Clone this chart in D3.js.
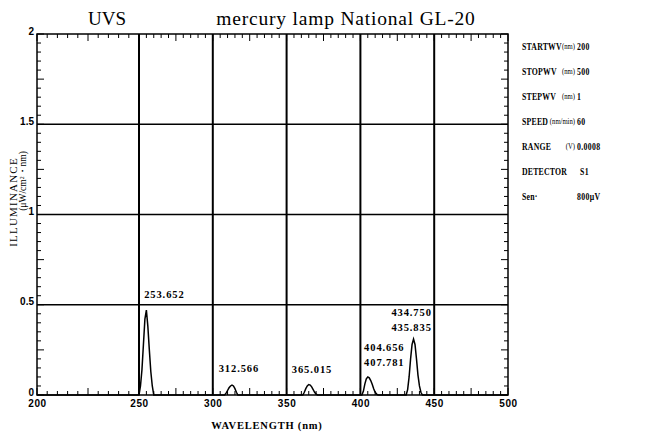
<!DOCTYPE html>
<html>
<head>
<meta charset="utf-8">
<script src="https://cdn.jsdelivr.net/npm/d3@7"></script>
<style>
  body { margin: 0; background: #fff; }
  svg { display: block; font-family: "Liberation Serif", "DejaVu Serif", serif; }
  .axis path, .axis line { stroke: #000; }
  .axis text { font-size: 10px; font-weight: bold; fill: #000; }
</style>
</head>
<body>
<div id="chart"></div>
<script>
  // spectrum samples (nm, uW/cm2/nm)
  var waveNm = [200, 250, 251, 252, 253, 254, 255, 256, 257, 258, 259, 260,
    308, 309, 310, 311, 312, 313, 314, 315, 316, 317,
    361, 362, 363, 364, 365, 366, 367, 368, 369, 370, 371,
    401, 402, 403, 404, 405, 406, 407, 408, 409, 410, 411, 412,
    431, 432, 433, 434, 435, 436, 437, 438, 439, 440, 441, 442, 500];
  var illum = [0, 0, 0.05, 0.14, 0.28, 0.42, 0.47, 0.38, 0.25, 0.13, 0.05, 0,
    0, 0.01, 0.025, 0.04, 0.05, 0.055, 0.05, 0.035, 0.015, 0,
    0, 0.015, 0.035, 0.05, 0.058, 0.055, 0.045, 0.03, 0.015, 0.005, 0,
    0, 0.02, 0.06, 0.09, 0.1, 0.095, 0.08, 0.06, 0.035, 0.015, 0.005, 0,
    0, 0.03, 0.1, 0.2, 0.28, 0.31, 0.28, 0.2, 0.11, 0.05, 0.015, 0, 0];

  // peak annotations
  var peakLabels = [['253.652'], ['312.566'], ['365.015'], ['404.656', '407.781'], ['434.750', '435.835']];
  var peakLabelWv = [253.5, 304, 353.5, 402.5, 421];
  var peakLabelY = [0.54, 0.125, 0.12, 0.245, 0.435];

  var xTicks = [200, 250, 300, 350, 400, 450, 500];
  var yTicks = [0, 0.5, 1, 1.5, 2];
  var yTickLabels = ['0', '0.5', '1', '1.5', '2'];

  var infoLabels = ['STARTWV', 'STOPWV', 'STEPWV', 'SPEED', 'RANGE', 'DETECTOR', 'Sen·'];
  var infoUnits = ['(nm)', '(nm)', '(nm)', '(nm/min)', '(V)', '', ''];
  var infoValues = ['200', '500', '1', '60', '0.0008', 'S1', '800μV'];

  var width = 671, height = 437;
  var svg = d3.select('#chart').append('svg')
    .attr('width', width).attr('height', height);

  // the scanned chart has a wider first 50 nm segment
  var x = d3.scaleLinear().domain([200, 250, 500]).range([37, 139, 508]);
  var y = d3.scaleLinear().domain([0, 2]).range([395, 34]);

  var plotL = x(200), plotR = x(500), plotT = y(2), plotB = y(0);

  // minor ticks on all four sides
  var minorX = d3.range(200, 501, 5);
  var minorY = d3.range(0, 2.001, 0.05);
  function xLen(d) { return d % 25 === 0 ? 7 : 4; }
  function yLen(d) { return Math.round(d * 100) % 25 === 0 ? 7 : 4; }

  var ticks = svg.append('g').attr('stroke', '#000').attr('stroke-width', 1);
  minorX.forEach(function(d) {
    ticks.append('line').attr('x1', x(d)).attr('x2', x(d))
      .attr('y1', plotB).attr('y2', plotB - xLen(d));
    ticks.append('line').attr('x1', x(d)).attr('x2', x(d))
      .attr('y1', plotT).attr('y2', plotT + xLen(d));
  });
  minorY.forEach(function(d) {
    ticks.append('line').attr('y1', y(d)).attr('y2', y(d))
      .attr('x1', plotL).attr('x2', plotL + yLen(d));
    ticks.append('line').attr('y1', y(d)).attr('y2', y(d))
      .attr('x1', plotR).attr('x2', plotR - yLen(d));
  });

  // grid
  svg.append('g').selectAll('line').data([250, 300, 350, 400, 450]).enter()
    .append('line')
    .attr('x1', function(d) { return x(d); }).attr('x2', function(d) { return x(d); })
    .attr('y1', plotT).attr('y2', plotB)
    .attr('stroke', '#000').attr('stroke-width', 2);
  svg.append('g').selectAll('line').data([0.5, 1, 1.5]).enter()
    .append('line')
    .attr('y1', function(d) { return y(d); }).attr('y2', function(d) { return y(d); })
    .attr('x1', plotL).attr('x2', plotR)
    .attr('stroke', '#000').attr('stroke-width', 1.5);

  // frame
  svg.append('rect')
    .attr('x', plotL).attr('y', plotT)
    .attr('width', plotR - plotL).attr('height', plotB - plotT)
    .attr('fill', 'none').attr('stroke', '#000').attr('stroke-width', 1.5);

  // axes (labels only)
  svg.append('g').attr('class', 'axis')
    .attr('transform', 'translate(0,' + plotB + ')')
    .call(d3.axisBottom(x).tickValues(xTicks).tickSize(0).tickPadding(5).tickFormat(d3.format('d')))
    .call(function(g) { g.select('.domain').remove(); })
    .selectAll('text').attr('letter-spacing', 0.6);

  svg.append('g').attr('class', 'axis')
    .attr('transform', 'translate(' + plotL + ',-3)')
    .call(d3.axisLeft(y).tickValues(yTicks).tickSize(0).tickPadding(3)
      .tickFormat(function(d, i) { return yTickLabels[i]; }))
    .call(function(g) { g.select('.domain').remove(); });

  // spectrum line
  var line = d3.line()
    .x(function(d, i) { return x(waveNm[i]); })
    .y(function(d) { return y(d); });
  svg.append('path')
    .datum(illum)
    .attr('d', line)
    .attr('fill', 'none')
    .attr('stroke', '#000')
    .attr('stroke-width', 1.5);

  // peak labels
  peakLabels.forEach(function(lines, i) {
    lines.forEach(function(t, j) {
      svg.append('text')
        .attr('x', x(peakLabelWv[i]))
        .attr('y', y(peakLabelY[i]) + j * 15)
        .attr('font-size', 10.5)
        .attr('font-weight', 'bold')
        .attr('letter-spacing', 0.9)
        .text(t);
    });
  });

  // titles
  svg.append('text').attr('x', 107).attr('y', 25)
    .attr('text-anchor', 'middle').attr('font-size', 19).text('UVS');
  svg.append('text').attr('x', 346).attr('y', 25)
    .attr('text-anchor', 'middle').attr('font-size', 19.5).attr('letter-spacing', 0.8)
    .text('mercury lamp National GL-20');

  svg.append('text').attr('x', 267).attr('y', 429)
    .attr('text-anchor', 'middle').attr('font-size', 10.5).attr('font-weight', 'bold')
    .attr('letter-spacing', 0.8)
    .text('WAVELENGTH (nm)');

  var yl = svg.append('g').attr('transform', 'translate(17,202) rotate(-90)');
  yl.append('text').attr('text-anchor', 'middle').attr('font-size', 11)
    .attr('letter-spacing', 1.2).text('ILLUMINANCE');
  yl.append('text').attr('x', 21).attr('y', 9).attr('text-anchor', 'middle').attr('font-size', 9.5)
    .text('(μW/cm²・nm)');

  // measurement settings, horizontally squeezed like the plotter font
  var sx = 0.74;
  var info = svg.append('g')
    .attr('transform', 'translate(522,0) scale(' + sx + ',1)')
    .attr('font-size', 10.5).attr('font-weight', 'bold');
  infoLabels.forEach(function(t, i) {
    var yy = 50 + i * 25;
    info.append('text').attr('x', 0).attr('y', yy).attr('letter-spacing', 0.3).text(t);
    if (infoUnits[i]) {
      info.append('text').attr('x', (575 - 522) / sx).attr('y', yy - 1)
        .attr('text-anchor', 'end').attr('font-weight', 'normal').attr('font-size', 9).text(infoUnits[i]);
    }
    info.append('text').attr('x', ((i === 5 ? 580 : 577) - 522) / sx).attr('y', yy)
      .attr('letter-spacing', 0.5).text(infoValues[i]);
  });
</script>
</body>
</html>
